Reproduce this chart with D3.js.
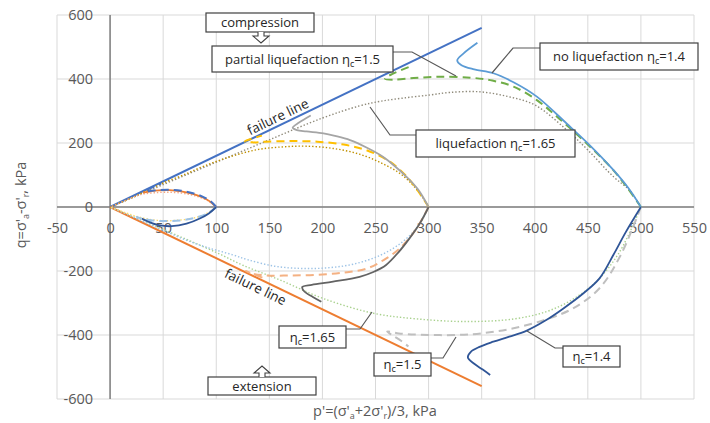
<!DOCTYPE html>
<html><head><meta charset="utf-8">
<script src="https://cdn.jsdelivr.net/npm/d3@7"></script>
<style>
body{margin:0;background:#fff}
svg{display:block}
text{font-family:"Open Sans",sans-serif}
</style>
</head><body>
<svg id="chart" width="710" height="423"></svg>
<script>
// ---- axis ticks ----
const pTicks = [-50, 0, 50, 100, 150, 200, 250, 300, 350, 400, 450, 500, 550];
const qTicks = [-600, -400, -200, 0, 200, 400, 600];

// ---- failure lines (p', q) ----
const failureComp = [[0, 0], [350, 560]];
const failureExt  = [[0, 0], [350, -560]];

// ---- stress paths, compression, p'0 = 500 ----
const comp500Solid = [[500,0],[488,60],[474,116],[450,199],[430,261],[402,345],[380,390],[361,418],[343,430],[331,443],[327,458],[333,480],[346,513]];
const comp500Dash  = [[500,0],[485,70],[471,126],[442,220],[421,282],[402,334],[380,376],[360,395],[340,404],[310,407],[286,403],[268,398],[259,401],[266,416],[282,438]];
const comp500Dot   = [[500,0],[490,50],[474,95],[450,178],[430,241],[400,319],[375,345],[348,360],[320,358],[301,350],[275,340],[254,330],[235,316],[200,278],[150,210],[100,140],[50,70],[0,0]];

// ---- stress paths, compression, p'0 = 300 ----
const comp300Solid = [[300,0],[290,55],[279,95],[268,128],[257,157],[242,185],[226,209],[212,222],[201,230],[185,236],[176,240],[172,248],[178,264],[189,286]];
const comp300Dash  = [[300,0],[290,50],[278,100],[262,145],[241,178],[220,195],[195,204],[170,206],[147,204],[134,202],[127,205],[133,213],[143,223]];
const comp300Dot   = [[300,0],[290,50],[275,100],[257,135],[235,165],[210,183],[185,190],[163,188],[140,180],[116,160],[90,130],[69,100],[50,75],[38,57],[20,28],[0,0]];

// ---- stress paths, compression, p'0 = 100 ----
const comp100Solid = [[100,0],[95,15],[88,29],[78,41],[67,49],[56,53],[46,52],[38,49],[31,45]];
const comp100Dash  = [[100,0],[95,17],[88,31],[78,43],[67,51],[56,54],[46,53],[38,50],[33,49],[38,59],[48,73]];
const comp100Dot   = [[100,0],[92,20],[80,35],[66,44],[52,46],[40,44],[30,40],[22,31],[12,17],[0,0]];

// ---- stress paths, extension, p'0 = 500 ----
const ext500Solid = [[500,0],[486,-77],[474,-150],[461,-223],[445,-272],[427,-317],[410,-355],[392,-387],[376,-405],[361,-421],[348,-437],[340,-452],[337,-470],[343,-490],[351,-508],[358,-525]];
const ext500Dash  = [[500,0],[481,-150],[461,-254],[436,-317],[410,-352],[380,-379],[352,-394],[326,-400],[292,-399],[272,-395],[261,-389],[266,-401],[274,-418],[281,-436]];
const ext500Dot   = [[500,0],[480,-140],[458,-233],[435,-290],[411,-327],[380,-350],[336,-358],[290,-350],[248,-332],[200,-285],[160,-228],[125,-182],[100,-142],[50,-70],[0,0]];

// ---- stress paths, extension, p'0 = 300 ----
const ext300Solid = [[300,0],[292,-50],[282,-98],[272,-140],[260,-181],[248,-203],[235,-218],[210,-233],[190,-243],[181,-250],[183,-264],[191,-281],[199,-296]];
const ext300Dash  = [[300,0],[288,-70],[273,-129],[258,-165],[242,-192],[220,-205],[195,-212],[170,-214],[147,-214],[134,-208],[128,-200],[135,-210],[146,-224]];
const ext300Dot   = [[300,0],[290,-60],[275,-110],[255,-150],[230,-178],[205,-190],[180,-192],[155,-185],[130,-165],[116,-150],[90,-125],[69,-100],[50,-73],[37,-54],[20,-29],[0,0]];

// ---- stress paths, extension, p'0 = 100 ----
const ext100Solid = [[100,0],[93,-20],[85,-35],[72,-52],[58,-60],[46,-57],[38,-49],[32,-40],[30,-36]];
const ext100Dash  = [[100,0],[92,-20],[80,-34],[66,-42],[52,-44],[40,-42],[30,-36],[25,-31],[30,-38],[40,-46]];
const ext100Dot   = [[100,0],[90,-22],[78,-35],[65,-41],[52,-43],[40,-40],[28,-32],[18,-22],[8,-10],[0,0]];

// ---- drawing ----
const svg = d3.select("#chart");
const x = d3.scaleLinear().domain([-50, 550]).range([57, 694]);
const y = d3.scaleLinear().domain([-600, 600]).range([399, 15]);

// grid
svg.append("g").selectAll("line").data(pTicks).join("line")
  .attr("x1", d => x(d)).attr("x2", d => x(d))
  .attr("y1", y(600)).attr("y2", y(-600))
  .attr("stroke", "#d9d9d9").attr("stroke-width", 1);
svg.append("g").selectAll("line").data(qTicks).join("line")
  .attr("x1", x(-50)).attr("x2", x(550))
  .attr("y1", d => y(d)).attr("y2", d => y(d))
  .attr("stroke", "#d9d9d9").attr("stroke-width", 1);

// axis lines through the origin
svg.append("line").attr("x1", x(0)).attr("x2", x(0)).attr("y1", y(600)).attr("y2", y(-600))
  .attr("stroke", "#7f7f7f").attr("stroke-width", 1.5);
svg.append("line").attr("x1", x(-50)).attr("x2", x(550)).attr("y1", y(0)).attr("y2", y(0))
  .attr("stroke", "#7f7f7f").attr("stroke-width", 1.5);

// tick labels (plain hyphen for negatives)
const plain = d => String(d);
const yAxis = svg.append("g").attr("transform", `translate(${x(0)},0)`)
  .call(d3.axisLeft(y).tickValues(qTicks).tickFormat(plain).tickSize(0).tickPadding(17));
const xAxis = svg.append("g").attr("transform", `translate(0,${y(0)})`)
  .call(d3.axisBottom(x).tickValues(pTicks).tickFormat(plain).tickSize(0).tickPadding(16));
[yAxis, xAxis].forEach(g => {
  g.select(".domain").remove();
  g.selectAll("text").attr("fill", "#595959").style("font-size", "14.5px")
    .style("font-family", '"Open Sans",sans-serif');
});

// failure lines
const line = d3.line().x(d => x(d[0])).y(d => y(d[1]));
svg.append("path").attr("d", line(failureComp)).attr("fill", "none")
  .attr("stroke", "#4472c4").attr("stroke-width", 2);
svg.append("path").attr("d", line(failureExt)).attr("fill", "none")
  .attr("stroke", "#ed7d31").attr("stroke-width", 2);

// stress paths
const curve = d3.line().x(d => x(d[0])).y(d => y(d[1])).curve(d3.curveCatmullRom.alpha(0.5));
const styles = {
  solid:  {w: 1.8, dash: null},
  dash:   {w: 2.0, dash: "8,5"},
  dot:    {w: 1.4, dash: "1.4,2"}
};
const series = [
  [comp500Dot, "#8f8a7a", "dot"], [comp500Dash, "#70ad47", "dash"], [comp500Solid, "#5b9bd5", "solid"],
  [comp300Dot, "#bf9000", "dot"], [comp300Dash, "#ffc000", "dash"], [comp300Solid, "#a5a5a5", "solid"],
  [comp100Dot, "#f4a582", "dot"], [comp100Solid, "#ed7d31", "solid"], [comp100Dash, "#4472c4", "dash"],
  [ext500Dot, "#a9d18e", "dot"], [ext500Dash, "#bfbfbf", "dash"], [ext500Solid, "#2f5597", "solid"],
  [ext300Dot, "#9dc3e6", "dot"], [ext300Dash, "#f4b183", "dash"], [ext300Solid, "#636363", "solid"],
  [ext100Dot, "#ffd966", "dot"], [ext100Dash, "#9dc3e6", "dash"], [ext100Solid, "#2f5597", "solid"]
];
svg.append("g").selectAll("path").data(series).join("path")
  .attr("d", d => curve(d[0]))
  .attr("fill", "none")
  .attr("stroke", d => d[1])
  .attr("stroke-width", d => styles[d[2]].w)
  .attr("stroke-dasharray", d => styles[d[2]].dash);

// "failure line" labels along both lines
const angComp = Math.atan2(y(560) - y(0), x(350) - x(0)) * 180 / Math.PI;
const angExt = Math.atan2(y(-560) - y(0), x(350) - x(0)) * 180 / Math.PI;
svg.append("text").attr("transform", `translate(${x(160)},${y(256) - 4}) rotate(${angComp})`)
  .attr("text-anchor", "middle").attr("fill", "#262626").style("font-size", "13.5px").text("failure line");
svg.append("text").attr("transform", `translate(${x(135)},${y(-216) + 15}) rotate(${angExt})`)
  .attr("text-anchor", "middle").attr("fill", "#262626").style("font-size", "13.5px").text("failure line");

// callout boxes
function eta(sel, prefix, value) {
  sel.append("tspan").text(prefix + "η");
  sel.append("tspan").attr("dy", 3).style("font-size", "9px").text("c");
  sel.append("tspan").attr("dy", -3).text("=" + value);
}
const callouts = [
  {x0: 206, y0: 13, x1: 314, y1: 32, text: "compression"},
  {x0: 212, y0: 46, x1: 393, y1: 72, prefix: "partial liquefaction ", value: "1.5", lead: [[393,52],[412,52],[456,76]]},
  {x0: 540, y0: 43, x1: 698, y1: 70, prefix: "no liquefaction ", value: "1.4", lead: [[540,48],[513,48],[492,73]]},
  {x0: 416, y0: 130, x1: 575, y1: 157, prefix: "liquefaction ", value: "1.65", lead: [[416,135],[390,135],[370,107]]},
  {x0: 279, y0: 326, x1: 346, y1: 348, prefix: "", value: "1.65", lead: [[346,329],[360,329],[372,312]]},
  {x0: 374, y0: 353, x1: 431, y1: 376, prefix: "", value: "1.5", lead: [[431,358],[443,358],[456,337]]},
  {x0: 563, y0: 346, x1: 620, y1: 367, prefix: "", value: "1.4", lead: [[563,348],[555,348],[527,331]]},
  {x0: 208, y0: 377, x1: 316, y1: 395, text: "extension"}
];
callouts.forEach(c => {
  if (c.lead) {
    svg.append("polyline").attr("points", c.lead.map(p => p.join(",")).join(" "))
      .attr("fill", "none").attr("stroke", "#595959").attr("stroke-width", 1.2);
  }
  svg.append("rect").attr("x", c.x0).attr("y", c.y0).attr("width", c.x1 - c.x0).attr("height", c.y1 - c.y0)
    .attr("fill", "#fff").attr("stroke", "#404040").attr("stroke-width", 1.2);
  const t = svg.append("text").attr("x", (c.x0 + c.x1) / 2).attr("y", (c.y0 + c.y1) / 2 + 4.5)
    .attr("text-anchor", "middle").attr("fill", "#262626").style("font-size", "13px");
  if (c.text) t.text(c.text); else eta(t, c.prefix, c.value);
});

// open arrows pointing away from the boxes
function openArrow(cx, yStart, dir) {
  const s = dir, h = 11;
  const pts = [[cx - 3, yStart], [cx - 3, yStart + s * 4], [cx - 8, yStart + s * 4], [cx, yStart + s * h],
               [cx + 8, yStart + s * 4], [cx + 3, yStart + s * 4], [cx + 3, yStart]];
  svg.append("polyline").attr("points", pts.map(p => p.join(",")).join(" "))
    .attr("fill", "#fff").attr("stroke", "#404040").attr("stroke-width", 1.1);
}
openArrow(261, 32, 1);
openArrow(262, 377, -1);

// axis titles
const xt = svg.append("text").attr("x", 375).attr("y", 416).attr("text-anchor", "middle")
  .attr("fill", "#595959").style("font-size", "14.5px");
xt.append("tspan").text("p'=(σ'");
xt.append("tspan").attr("dy", 3).style("font-size", "9px").text("a");
xt.append("tspan").attr("dy", -3).text("+2σ'");
xt.append("tspan").attr("dy", 3).style("font-size", "9px").text("r");
xt.append("tspan").attr("dy", -3).text(")/3, kPa");

const yt = svg.append("text").attr("transform", "translate(26,205) rotate(-90)").attr("text-anchor", "middle")
  .attr("fill", "#595959").style("font-size", "14.5px");
yt.append("tspan").text("q=σ'");
yt.append("tspan").attr("dy", 3).style("font-size", "9px").text("a");
yt.append("tspan").attr("dy", -3).text("-σ'");
yt.append("tspan").attr("dy", 3).style("font-size", "9px").text("r");
yt.append("tspan").attr("dy", -3).text(", kPa");
</script>
</body></html>
